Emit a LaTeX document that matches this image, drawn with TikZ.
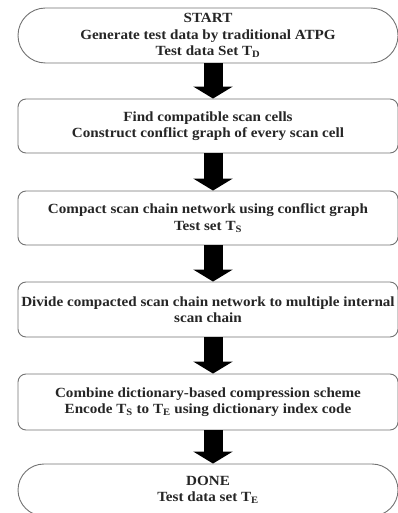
\documentclass[tikz,border=0pt]{standalone}
\usepackage{fontspec}
\setmainfont[FakeStretch=1.08]{Liberation Serif}
\usetikzlibrary{shapes.misc,arrows.meta}
\tikzset{
  boxbase/.style={draw=black!55, line width=0.9pt, fill=white, align=center,
    font=\fontsize{14}{16.5}\selectfont\bfseries, text=black!85,
    minimum width=380pt, inner sep=0pt},
  procbox/.style={boxbase, rectangle, rounded corners=8pt},
  termbox/.style={boxbase, rounded rectangle},
  blockarrow/.style={line width=19pt, black, -{Triangle[width=39pt,length=12pt]}}
}
\begin{document}
\begin{tikzpicture}[x=1pt,y=-1pt]
\useasboundingbox (0,0) rectangle (398,513);
\node[termbox, minimum height=55pt] (start) at (208,35.5)
  {START\\Generate test data by traditional ATPG\\Test data Set T\textsubscript{D}};
\node[procbox, minimum height=54pt] (find) at (208,126)
  {Find compatible scan cells\\Construct conflict graph of every scan cell};
\node[procbox, minimum height=54pt] (compact) at (208,218)
  {Compact scan chain network using conflict graph\\Test set T\textsubscript{S}};
\node[procbox, minimum height=55pt] (divide) at (208,309.5)
  {Divide compacted scan chain network to multiple internal\\scan chain};
\node[procbox, minimum height=56pt] (combine) at (208,402)
  {Combine dictionary-based compression scheme\\Encode T\textsubscript{S} to T\textsubscript{E} using dictionary index code};
\node[termbox, minimum height=52pt] (done) at (208,490)
  {DONE\\Test data set T\textsubscript{E}};
\foreach \a/\b in {start/find, find/compact, compact/divide, divide/combine, combine/done}
  \draw[blockarrow] ([xshift=5pt]\a.south) -- ([xshift=5pt]\b.north);
\end{tikzpicture}
\end{document}
